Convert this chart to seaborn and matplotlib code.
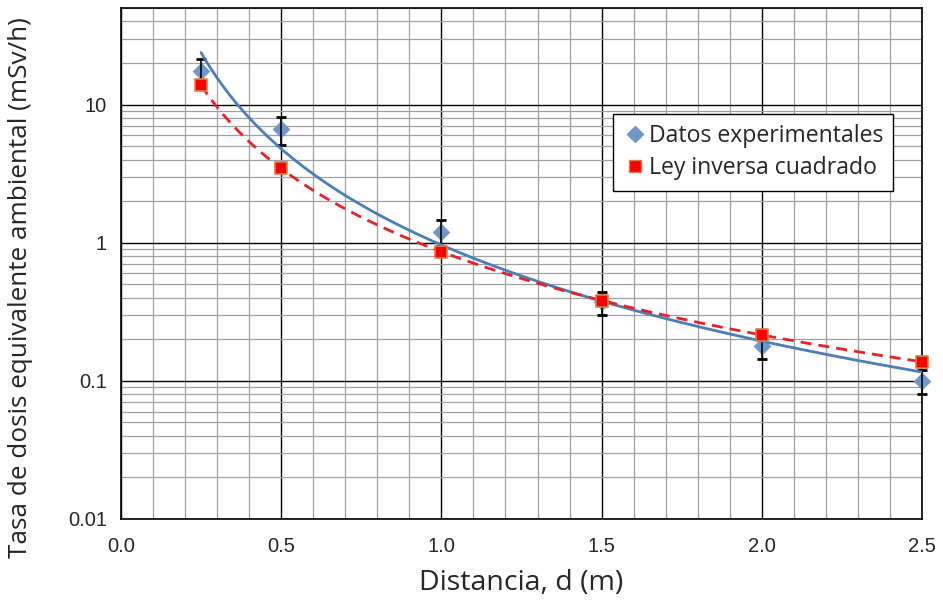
import numpy as np
import pandas as pd
import seaborn as sns
import matplotlib.pyplot as plt
from matplotlib.ticker import MultipleLocator, FixedLocator, FixedFormatter, LogLocator, NullFormatter
from matplotlib.lines import Line2D

# datos
distancia = [0.25, 0.5, 1.0, 1.5, 2.0, 2.5]
experimental = [17.6, 6.6, 1.2, 0.37, 0.18, 0.10]
error_exp = [3.8, 1.5, 0.26, 0.07, 0.035, 0.02]
inversa = [13.8, 3.45, 0.86, 0.38, 0.215, 0.138]

y_ticks = [0.01, 0.1, 1, 10]
y_labels = ['0.01', '0.1', '1', '10']

df = pd.DataFrame({'d': distancia, 'exp': experimental, 'err': error_exp, 'inv': inversa})

# lineas de tendencia potenciales (ajuste log-log)
dd = np.linspace(min(distancia), max(distancia), 300)
b1, a1 = np.polyfit(np.log10(df['d']), np.log10(df['exp']), 1)
b2, a2 = np.polyfit(np.log10(df['d']), np.log10(df['inv']), 1)
fit = pd.DataFrame({'d': dd, 'exp': 10**a1 * dd**b1, 'inv': 10**a2 * dd**b2})

sns.set_style('white')
plt.rcParams['font.family'] = ['Liberation Sans', 'DejaVu Sans']

fig = plt.figure(figsize=(9.43, 6), dpi=100)
ax = fig.add_axes([121/943, 1 - 519/600, (922-121)/943, (519-8)/600])
ax.set_yscale('log')
ax.set_xlim(0, 2.5)
ax.set_ylim(0.01, 50)

ax.xaxis.set_major_locator(MultipleLocator(0.5))
ax.xaxis.set_minor_locator(MultipleLocator(0.1))
ax.xaxis.set_major_formatter(plt.FormatStrFormatter('%.1f'))
ax.yaxis.set_major_locator(FixedLocator(y_ticks))
ax.yaxis.set_major_formatter(FixedFormatter(y_labels))
ax.yaxis.set_minor_locator(LogLocator(base=10, subs=np.arange(2, 10)))
ax.yaxis.set_minor_formatter(NullFormatter())

ax.grid(which='major', color='black', lw=1.0)
ax.grid(which='minor', color='#a0a0a0', lw=0.9)
ax.set_axisbelow(True)
ax.tick_params(which='major', length=0, labelsize=14.5)
ax.tick_params(axis='x', which='major', pad=13)
ax.tick_params(axis='y', which='major', pad=10)
ax.tick_params(which='minor', length=0)
for s in ax.spines.values():
    s.set_color('black')
    s.set_linewidth(1.2)

ax.errorbar(df['d'], df['exp'], yerr=df['err'], fmt='none', ecolor='black',
            elinewidth=1.2, capsize=3.5, capthick=2, zorder=4, clip_on=False)
sns.scatterplot(data=df, x='d', y='exp', marker='D', s=70, color='#7097c9',
                edgecolor='#7097c9', zorder=3, clip_on=False, ax=ax)
sns.lineplot(data=fit, x='d', y='exp', color='#4a7ebb', lw=2.0, zorder=5, ax=ax)
sns.lineplot(data=fit, x='d', y='inv', color='#e8202a', lw=2.0, ls=(0, (4, 2.5)), zorder=5, ax=ax)
sns.scatterplot(data=df, x='d', y='inv', marker='s', s=85, color='#ff0000',
                edgecolor='#d88040', linewidth=1.2, zorder=6, clip_on=False, ax=ax)

lab_font = ['Open Sans', 'DejaVu Sans']
ax.set_xlabel('Distancia, d (m)', fontsize=20.5, family=lab_font, labelpad=9)
ax.set_ylabel('Tasa de dosis equivalente ambiental (mSv/h)', fontsize=18.8, family=lab_font)
ax.yaxis.set_label_coords(-0.126, 0.452)
ax.yaxis.label.set_verticalalignment('center')

handles = [Line2D([], [], marker='D', ls='none', color='#7097c9', markersize=8),
           Line2D([], [], marker='s', ls='none', color='#ff0000', markeredgecolor='#d88040', markersize=8)]
leg = ax.legend(handles, ['Datos experimentales', 'Ley inversa cuadrado'],
                loc='upper left', bbox_to_anchor=((613-121)/801, 1 - (114-8)/511),
                prop={'family': lab_font, 'size': 16.6}, frameon=True, fancybox=False,
                edgecolor='black', framealpha=1, handletextpad=0.1, handlelength=1.0,
                borderpad=0.45, borderaxespad=0, labelspacing=0.35)
leg.get_frame().set_linewidth(1.0)
leg.set_zorder(10)

fig.savefig('out.png', dpi=100)
